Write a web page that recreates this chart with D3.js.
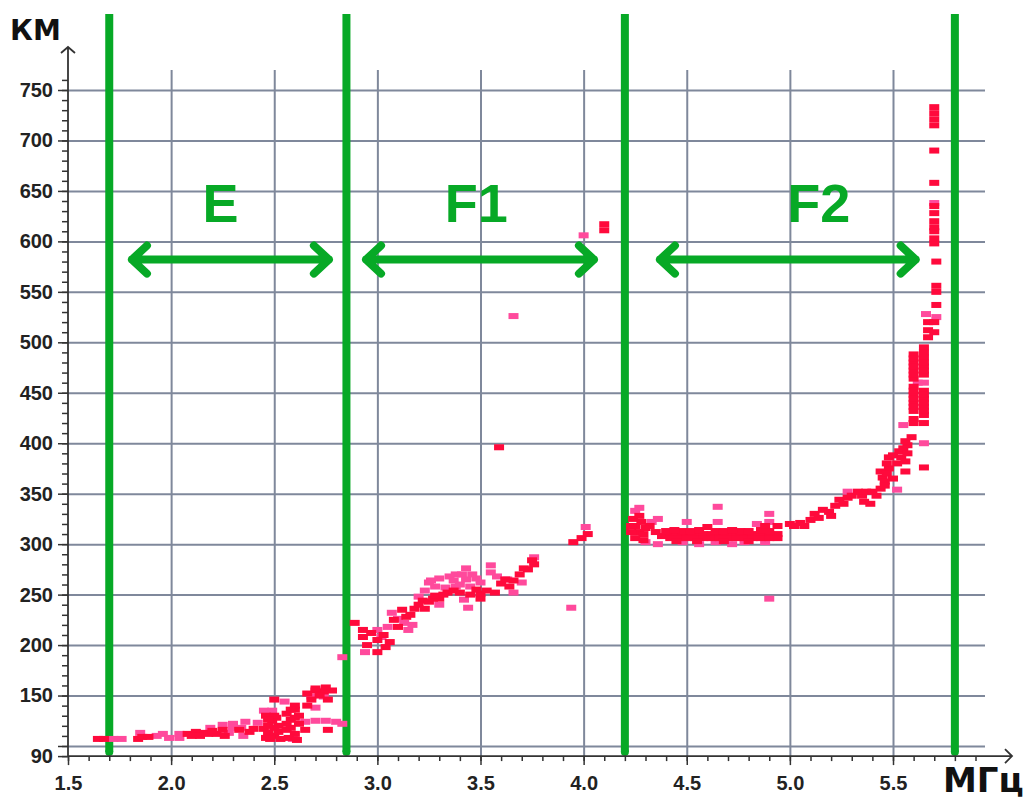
<!DOCTYPE html>
<html>
<head>
<meta charset="utf-8">
<script src="https://cdn.jsdelivr.net/npm/d3@7"></script>
<style>
  html, body { margin: 0; padding: 0; background: #fff; }
  #chart { width: 1030px; height: 801px; overflow: hidden; }
</style>
</head>
<body>
<div id="chart"></div>
<script>
// [frequency MHz, height km]
const redPoints = [
  // E
  [1.645, 107], [1.675, 107], [1.84, 107], [1.86, 109], [1.89, 109], [2.08, 112], [2.12, 114], [2.16, 113],
  [2.1, 110], [2.14, 110], [2.18, 112], [2.22, 112],
  [2.2, 115], [2.25, 116], [2.26, 110], [2.33, 116], [2.38, 114], [2.4, 117], [2.45, 117],
  [2.46, 130], [2.49, 125], [2.52, 120], [2.47, 113], [2.5, 110], [2.53, 107], [2.46, 108], [2.5, 146], [2.51, 128],
  [2.47, 120], [2.5, 130], [2.52, 114], [2.48, 107], [2.5, 118], [2.47, 126],
  [2.56, 132], [2.6, 136], [2.58, 126], [2.62, 122], [2.56, 116], [2.6, 112], [2.57, 108], [2.61, 106], [2.6, 140],
  [2.58, 118], [2.6, 128], [2.56, 122], [2.62, 130], [2.58, 136],
  [2.66, 152], [2.7, 155], [2.74, 154], [2.78, 155], [2.66, 140], [2.65, 116], [2.76, 116],
  [2.68, 146], [2.72, 150], [2.76, 146], [2.7, 157], [2.75, 158],
  // F1
  [2.89, 222], [2.93, 215], [2.93, 208], [2.95, 200], [3.0, 193], [3.0, 205], [3.03, 210], [3.06, 203], [3.08, 225],
  [2.97, 212], [3.04, 198], [3.1, 218], [3.14, 228], [3.18, 236], [3.22, 244], [3.3, 246], [3.34, 252],
  [3.12, 235], [3.16, 230], [3.2, 240], [3.23, 236], [3.25, 243], [3.27, 246], [3.28, 249], [3.32, 250], [3.37, 254],
  [3.4, 252], [3.5, 246], [3.5, 251], [3.53, 254], [3.57, 252], [3.6, 261], [3.64, 258], [3.69, 270], [3.73, 275],
  [3.45, 250], [3.48, 255], [3.62, 265], [3.66, 264], [3.71, 276], [3.75, 284],
  [3.76, 280], [3.59, 396], [3.95, 302], [3.99, 306], [4.02, 310], [4.1, 611], [4.1, 617],
  // F2
  [4.24, 325], [4.25, 318], [4.27, 312], [4.28, 322], [4.29, 310], [4.32, 318], [4.35, 312], [4.38, 308],
  [4.23, 318], [4.23, 312], [4.27, 328], [4.3, 316], [4.25, 306], [4.29, 304],
  [4.42, 310], [4.46, 310], [4.5, 310], [4.54, 310], [4.58, 310], [4.62, 310], [4.66, 310], [4.7, 310],
  [4.74, 310], [4.78, 310], [4.82, 310], [4.86, 310], [4.9, 310], [4.94, 310],
  [4.42, 306], [4.46, 306], [4.5, 306], [4.54, 306], [4.58, 306], [4.62, 306], [4.66, 306], [4.7, 306],
  [4.74, 306], [4.78, 306], [4.82, 306], [4.86, 306], [4.9, 306], [4.94, 306],
  [4.4, 313], [4.48, 313], [4.52, 313], [4.64, 313], [4.68, 313], [4.76, 313], [4.8, 313], [4.9, 313],
  [4.45, 303], [4.55, 303], [4.68, 303], [4.8, 303], [4.44, 314], [4.56, 314], [4.6, 317], [4.72, 314],
  [4.86, 314], [4.88, 318], [4.94, 318],
  [5.0, 320], [5.05, 321], [5.1, 324], [5.12, 330], [5.16, 334], [5.22, 338], [5.24, 344], [5.28, 346],
  [5.02, 318], [5.07, 318], [5.14, 326], [5.19, 332], [5.2, 328], [5.26, 340], [5.3, 348], [5.35, 348],
  [5.42, 348], [5.44, 355], [5.45, 366], [5.48, 375], [5.48, 386], [5.52, 380], [5.53, 392], [5.57, 398],
  [5.54, 386],
  [5.33, 352], [5.37, 352], [5.4, 352], [5.36, 342], [5.39, 340], [5.44, 372], [5.47, 380], [5.47, 370],
  [5.5, 365], [5.46, 362], [5.5, 388], [5.46, 358], [5.55, 395], [5.56, 402], [5.57, 390], [5.56, 382],
  [5.56, 372], [5.59, 406],
  [5.6, 488], [5.6, 480], [5.6, 472], [5.6, 464], [5.6, 456], [5.6, 448], [5.6, 440], [5.6, 432], [5.6, 424],
  [5.6, 484], [5.6, 476], [5.6, 468], [5.6, 452], [5.6, 444], [5.6, 436], [5.6, 420],
  [5.65, 495], [5.65, 485], [5.65, 476], [5.65, 468], [5.65, 452], [5.65, 444], [5.65, 436], [5.65, 428],
  [5.65, 490], [5.65, 480], [5.65, 472], [5.65, 448], [5.65, 440], [5.65, 432],
  [5.65, 420], [5.65, 376],
  [5.67, 520], [5.67, 512], [5.67, 505], [5.7, 520], [5.7, 510], [5.71, 537], [5.71, 550], [5.71, 556],
  [5.71, 580], [5.7, 598], [5.7, 603], [5.7, 610], [5.7, 614], [5.7, 620], [5.7, 628], [5.7, 635],
  [5.7, 658], [5.7, 690], [5.7, 715], [5.7, 721], [5.7, 727], [5.7, 733]
];

const pinkPoints = [
  // E
  [1.72, 107], [1.76, 107], [1.85, 113], [1.93, 110], [1.96, 112], [1.99, 108], [2.04, 112], [2.04, 108],
  [2.19, 118], [2.25, 121], [2.3, 122], [2.34, 118], [2.36, 124], [2.42, 123], [2.35, 110], [2.45, 135],
  [2.3, 118], [2.28, 113],
  [2.49, 135], [2.55, 144], [2.59, 107], [2.68, 149], [2.74, 149], [2.7, 138], [2.65, 124], [2.7, 125],
  [2.75, 125], [2.8, 124], [2.83, 122], [2.83, 188],
  // F1
  [2.94, 193], [3.0, 215], [3.02, 208], [3.07, 232], [3.1, 226], [3.13, 222], [3.15, 215], [3.3, 240],
  [3.2, 248], [3.23, 254], [3.28, 258], [3.38, 270], [3.41, 270], [3.48, 266], [3.58, 268], [3.17, 220],
  [3.05, 218], [3.38, 258],
  [3.25, 262], [3.26, 264], [3.3, 266], [3.33, 257], [3.35, 268], [3.37, 264], [3.4, 260], [3.43, 265],
  [3.46, 270], [3.43, 276], [3.45, 258], [3.42, 245], [3.44, 237], [3.5, 262], [3.55, 279], [3.55, 272],
  [3.63, 265], [3.66, 252], [3.7, 262], [3.76, 287], [4.01, 317], [3.94, 237], [3.66, 526], [4.0, 606],
  // F2
  [4.25, 333], [4.27, 336], [4.33, 322], [4.36, 325], [4.5, 322], [4.65, 337], [4.65, 322], [4.84, 320],
  [4.9, 330], [4.9, 322], [4.9, 246], [4.3, 302], [4.36, 300], [4.48, 302], [4.56, 300], [4.64, 302],
  [4.72, 300], [4.78, 302], [4.88, 302],
  [5.28, 352], [5.52, 354], [5.62, 460], [5.65, 460], [5.65, 400], [5.55, 418], [5.66, 528], [5.71, 525],
  [5.7, 638]
];

const layerNames = ['E', 'F1', 'F2'];
const layerLabelFreq = [2.24, 3.48, 5.14];
const layerLabelKm = 619;
const layerArrowFrom = [1.81, 2.945, 4.37];
const layerArrowTo = [2.765, 4.05, 5.61];
const layerArrowKm = 582;
const layerBounds = [1.7, 2.85, 4.2, 5.8];

const xTickLabels = [1.5, 2.0, 2.5, 3.0, 3.5, 4.0, 4.5, 5.0, 5.5];
const xGridValues = [2.0, 2.5, 3.0, 3.5, 4.0, 4.5, 5.0, 5.5];
const xMinorTicks = d3.range(15, 60).map((d) => d / 10);
const yTickLabels = [90, 150, 200, 250, 300, 350, 400, 450, 500, 550, 600, 650, 700, 750];
const yMajorTicks = [90, 100, 150, 200, 250, 300, 350, 400, 450, 500, 550, 600, 650, 700, 750];
const yGridValues = [100, 150, 200, 250, 300, 350, 400, 450, 500, 550, 600, 650, 700, 750];
const yMinorTicks = d3.range(9, 77).map((d) => d * 10);

const WIDTH = 1030;
const HEIGHT = 801;
const GREEN = '#07a926';
const GRID = '#7f889b';
const AXIS = '#333';
const FONT = "'Liberation Sans', Arial, sans-serif";
const MARK_W = 10;
const MARK_H = 6;

const xScale = d3.scaleLinear().domain([1.5, 5.5]).range([68, 893]);
const yScale = d3.scaleLinear().domain([100, 750]).range([746, 90]);
const AXIS_Y = yScale(90);
const GRID_TOP = 70;
const GRID_RIGHT = 985;

const svg = d3.select('#chart').append('svg').attr('width', WIDTH).attr('height', HEIGHT);

// grid
svg
  .append('g')
  .attr('transform', 'translate(68,0)')
  .call(d3.axisLeft(yScale).tickValues(yGridValues).tickSize(-(GRID_RIGHT - 68)).tickFormat(''))
  .call((g) => g.select('.domain').remove())
  .selectAll('line')
  .attr('stroke', GRID)
  .attr('stroke-width', 2);

svg
  .append('g')
  .attr('transform', 'translate(0,' + AXIS_Y + ')')
  .call(d3.axisBottom(xScale).tickValues(xGridValues).tickSize(-(AXIS_Y - GRID_TOP)).tickFormat(''))
  .call((g) => g.select('.domain').remove())
  .selectAll('line')
  .attr('stroke', GRID)
  .attr('stroke-width', 2);

// layer boundaries
svg
  .append('g')
  .selectAll('line')
  .data(layerBounds)
  .join('line')
  .attr('x1', (d) => xScale(d))
  .attr('x2', (d) => xScale(d))
  .attr('y1', 14)
  .attr('y2', AXIS_Y - 4)
  .attr('stroke', GREEN)
  .attr('stroke-width', 8);
svg
  .append('g')
  .selectAll('circle')
  .data(layerBounds)
  .join('circle')
  .attr('cx', (d) => xScale(d))
  .attr('cy', AXIS_Y - 4)
  .attr('r', 4)
  .attr('fill', GREEN);

// points
const drawPoints = (pts, color) => {
  svg
    .append('g')
    .selectAll('rect')
    .data(pts)
    .join('rect')
    .attr('x', (d) => xScale(d[0]) - MARK_W / 2)
    .attr('y', (d) => yScale(d[1]) - MARK_H / 2)
    .attr('width', MARK_W)
    .attr('height', MARK_H)
    .attr('fill', color);
};
drawPoints(pinkPoints, '#ff4a9c');
drawPoints(redPoints, '#ff0a3c');

// axes
svg
  .append('g')
  .attr('transform', 'translate(0,' + AXIS_Y + ')')
  .call(d3.axisBottom(xScale).tickValues(xMinorTicks).tickSize(5).tickFormat(''))
  .call((g) => g.select('.domain').remove())
  .selectAll('line')
  .attr('stroke', AXIS)
  .attr('stroke-width', 1.5);

const xAxisG = svg
  .append('g')
  .attr('transform', 'translate(0,' + AXIS_Y + ')')
  .call(d3.axisBottom(xScale).tickValues(xTickLabels).tickSize(9).tickPadding(11).tickFormat(d3.format('.1f')));
xAxisG.select('.domain').remove();
xAxisG.selectAll('line').attr('stroke', AXIS).attr('stroke-width', 1.5);
xAxisG
  .selectAll('text')
  .attr('fill', '#222')
  .attr('font-family', FONT)
  .attr('font-size', 20)
  .attr('font-weight', 'bold');

svg
  .append('g')
  .attr('transform', 'translate(68,0)')
  .call(d3.axisLeft(yScale).tickValues(yMinorTicks).tickSize(6).tickFormat(''))
  .call((g) => g.select('.domain').remove())
  .selectAll('line')
  .attr('stroke', AXIS)
  .attr('stroke-width', 1.5);

const yAxisG = svg
  .append('g')
  .attr('transform', 'translate(68,0)')
  .call(
    d3
      .axisLeft(yScale)
      .tickValues(yMajorTicks)
      .tickSize(10)
      .tickPadding(5)
      .tickFormat((d) => (yTickLabels.includes(d) ? d : ''))
  );
yAxisG.select('.domain').remove();
yAxisG.selectAll('line').attr('stroke', AXIS).attr('stroke-width', 1.5);
yAxisG
  .selectAll('text')
  .attr('fill', '#222')
  .attr('font-family', FONT)
  .attr('font-size', 20)
  .attr('font-weight', 'bold');

// axis lines with arrows
svg
  .append('path')
  .attr('d', `M68,${AXIS_Y}V47M61,53L68,47L75,53`)
  .attr('fill', 'none')
  .attr('stroke', AXIS)
  .attr('stroke-width', 1.8);
svg
  .append('path')
  .attr('d', `M68,${AXIS_Y}H1012M1005,${AXIS_Y - 7}L1012,${AXIS_Y}L1005,${AXIS_Y + 7}`)
  .attr('fill', 'none')
  .attr('stroke', AXIS)
  .attr('stroke-width', 1.8);

// layer labels and arrows
svg
  .append('g')
  .selectAll('text')
  .data(layerNames)
  .join('text')
  .attr('x', (d, i) => xScale(layerLabelFreq[i]))
  .attr('y', yScale(layerLabelKm))
  .attr('text-anchor', 'middle')
  .attr('fill', GREEN)
  .attr('font-family', FONT)
  .attr('font-size', 54)
  .attr('font-weight', 'bold')
  .text((d) => d);

const ay = yScale(layerArrowKm);
svg
  .append('g')
  .selectAll('path')
  .data(layerNames)
  .join('path')
  .attr('d', (d, i) => {
    const x0 = xScale(layerArrowFrom[i]);
    const x1 = xScale(layerArrowTo[i]);
    return (
      `M${x0},${ay}H${x1}` +
      `M${x0 + 15},${ay - 14}L${x0},${ay}L${x0 + 15},${ay + 14}` +
      `M${x1 - 15},${ay - 14}L${x1},${ay}L${x1 - 15},${ay + 14}`
    );
  })
  .attr('fill', 'none')
  .attr('stroke', GREEN)
  .attr('stroke-width', 8)
  .attr('stroke-linecap', 'round')
  .attr('stroke-linejoin', 'round');

// axis titles
svg
  .append('text')
  .attr('x', 10)
  .attr('y', 40)
  .attr('font-family', "'DejaVu Sans', sans-serif")
  .attr('font-size', 28)
  .attr('font-weight', 'bold')
  .attr('fill', '#111')
  .text('КМ');
svg
  .append('text')
  .attr('x', 943)
  .attr('y', 792)
  .attr('font-family', "'DejaVu Sans', sans-serif")
  .attr('font-size', 34)
  .attr('font-weight', 'bold')
  .attr('fill', '#111')
  .text('МГц');
</script>
</body>
</html>
